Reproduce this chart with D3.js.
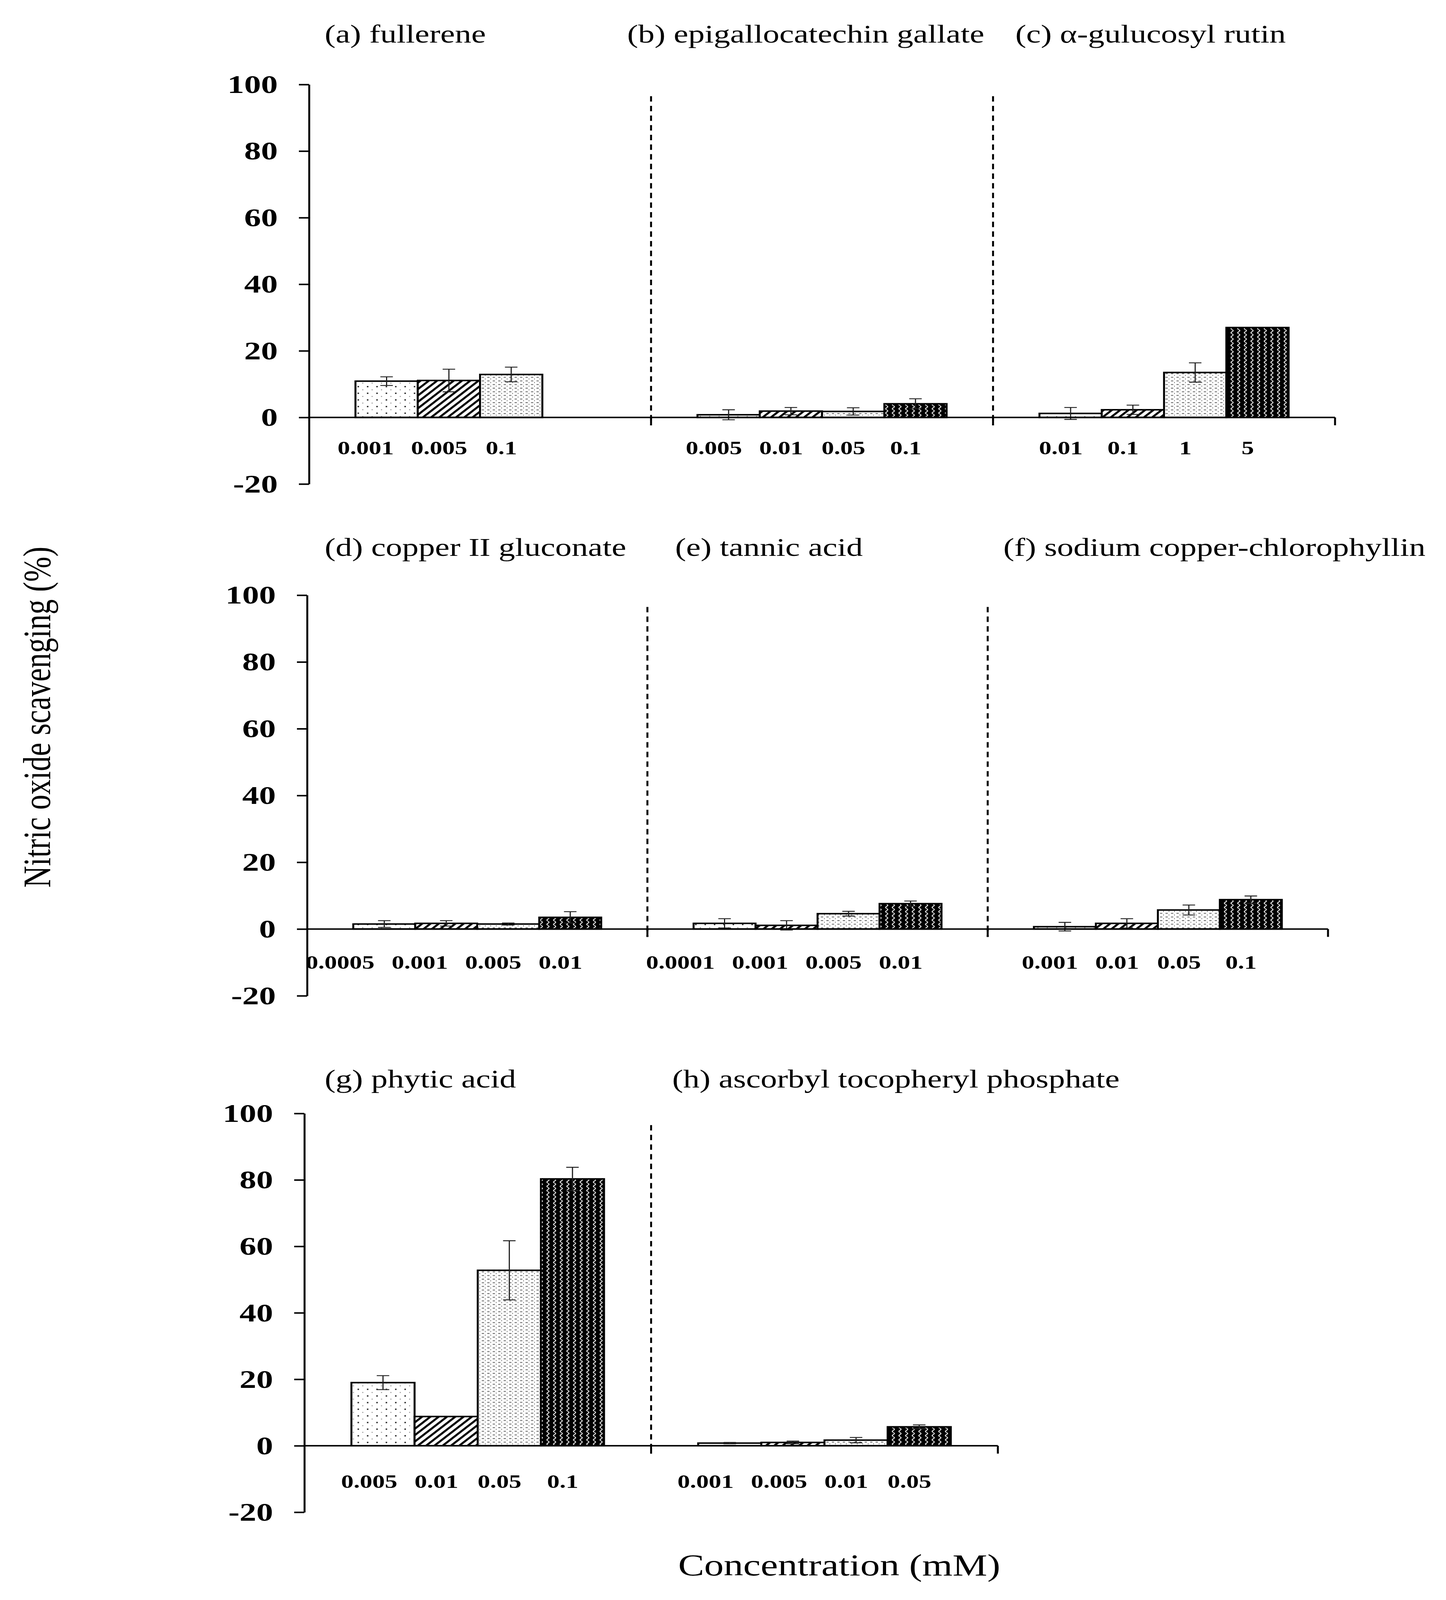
<!DOCTYPE html>
<html><head><meta charset="utf-8">
<script src="https://cdn.jsdelivr.net/npm/d3@7"></script>
<style>html,body{margin:0;padding:0;background:#fff;overflow:hidden} svg{display:block}</style>
</head><body>
<svg id="chart"></svg>
<script>
// ---------------- DATA ----------------
const panelTitles = [
  "(a) fullerene",
  "(b) epigallocatechin gallate",
  "(c) \u03b1-gulucosyl rutin",
  "(d) copper II gluconate",
  "(e) tannic acid",
  "(f) sodium copper-chlorophyllin",
  "(g) phytic acid",
  "(h) ascorbyl tocopheryl phosphate"
];
const concLabels = [
  ["0.001", "0.005", "0.1"],
  ["0.005", "0.01", "0.05", "0.1"],
  ["0.01", "0.1", "1", "5"],
  ["0.0005", "0.001", "0.005", "0.01"],
  ["0.0001", "0.001", "0.005", "0.01"],
  ["0.001", "0.01", "0.05", "0.1"],
  ["0.005", "0.01", "0.05", "0.1"],
  ["0.001", "0.005", "0.01", "0.05"]
];
const meanValues = [
  [10.9, 11.1, 12.9],
  [0.8, 1.9, 1.8, 4.1],
  [1.2, 2.3, 13.5, 27.0],
  [1.5, 1.7, 1.5, 3.5],
  [1.7, 1.1, 4.6, 7.6],
  [0.7, 1.7, 5.7, 8.8],
  [19.0, 8.8, 52.8, 80.3],
  [0.8, 1.0, 1.7, 5.7]
];
const errValues = [
  [1.3, 3.4, 2.2],
  [1.5, 1.1, 1.1, 1.5],
  [1.8, 1.4, 2.9, 0],
  [1.0, 0.8, 0.3, 1.7],
  [1.4, 1.4, 0.7, 0.8],
  [1.3, 1.4, 1.5, 1.1],
  [2.1, 0, 8.9, 3.5],
  [0.2, 0.4, 0.8, 0.6]
];
const yTicks = [-20, 0, 20, 40, 60, 80, 100];
const rowPanels = [[0, 1, 2], [3, 4, 5], [6, 7]];
const yAxisTitle = "Nitric oxide scavenging (%)";
const xAxisTitle = "Concentration (mM)";

// ---------------- LAYOUT (in 3701 x 5301 design units) ----------------
const DW = 3701, DH = 5301;
const rowLayout = [
  {axisX: 791, endX: 3417, y0: 1383, y100: 280,  titleY: 141,  labelY: 1505, titleDx: [40, -61, 57]},
  {axisX: 786, endX: 3399, y0: 3078, y100: 1972, titleY: 1841, labelY: 3210, titleDx: [45, 71, 40]},
  {axisX: 779, endX: 2554, y0: 4790, y100: 3689, titleY: 3603, labelY: 4930, titleDx: [52, 54]}
];
const FONT = "'Liberation Serif','Times New Roman',serif";

// fit the whole design into the actual window (the window may be shorter than asked)
const VW = window.innerWidth || DW, VH = window.innerHeight || DH;
const svg = d3.select("#chart")
  .attr("width", VW).attr("height", VH)
  .attr("viewBox", `0 0 ${DW} ${DH}`)
  .attr("preserveAspectRatio", "none");
svg.append("rect").attr("width", DW).attr("height", DH).attr("fill", "#fff");

// ---------------- PATTERNS ----------------
const defs = svg.append("defs");
const p0 = defs.append("pattern").attr("id", "pat0").attr("patternUnits", "userSpaceOnUse")
  .attr("width", 24).attr("height", 22);
p0.append("rect").attr("width", 24).attr("height", 22).attr("fill", "#fff");
p0.append("rect").attr("x", 3).attr("y", 3).attr("width", 4).attr("height", 4).attr("fill", "#222");
p0.append("rect").attr("x", 15).attr("y", 14).attr("width", 3).attr("height", 3).attr("fill", "#999");
const p1 = defs.append("pattern").attr("id", "pat1").attr("patternUnits", "userSpaceOnUse")
  .attr("width", 15).attr("height", 15).attr("patternTransform", "rotate(45)");
p1.append("rect").attr("width", 15).attr("height", 15).attr("fill", "#fff");
p1.append("rect").attr("width", 6).attr("height", 15).attr("fill", "#000");
const p2 = defs.append("pattern").attr("id", "pat2").attr("patternUnits", "userSpaceOnUse")
  .attr("width", 14).attr("height", 12);
p2.append("rect").attr("width", 14).attr("height", 12).attr("fill", "#fff");
p2.append("rect").attr("x", 1).attr("y", 1).attr("width", 6).attr("height", 2).attr("fill", "#333");
p2.append("rect").attr("x", 9).attr("y", 6).attr("width", 2).attr("height", 3).attr("fill", "#666");
const p3 = defs.append("pattern").attr("id", "pat3").attr("patternUnits", "userSpaceOnUse")
  .attr("width", 17).attr("height", 14);
p3.append("rect").attr("width", 17).attr("height", 14).attr("fill", "#000");
p3.append("path").attr("d", "M8.5,0 C12.5,3.5 12.5,3.5 8.5,7 C4.5,10.5 4.5,10.5 8.5,14")
  .attr("fill", "none").attr("stroke", "#fff").attr("stroke-width", 2.2);

const slots = [0, 1, 2, 3];

// ---------------- ROWS ----------------
rowPanels.forEach((panels, r) => {
  const L = rowLayout[r];
  const pxPerUnit = (L.y0 - L.y100) / 100;
  const y = d3.scaleLinear().domain([-20, 100]).range([L.y0 + 20 * pxPerUnit, L.y100]);
  const gScale = d3.scaleBand().domain(panels).range([L.axisX, L.endX]).padding(0);
  const g = svg.append("g");

  panels.forEach((p, gi) => {
    const gx = gScale(p);
    const sx = d3.scaleBand().domain(slots).range([gx, gx + gScale.bandwidth()])
      .paddingInner(0).paddingOuter(0.745);
    const bw = sx.bandwidth();
    const vals = meanValues[p];

    g.selectAll(null).data(vals).enter().append("rect")
      .attr("x", (d, i) => sx(i))
      .attr("width", bw)
      .attr("y", d => y(d))
      .attr("height", d => y(0) - y(d))
      .attr("fill", (d, i) => `url(#pat${i})`)
      .attr("stroke", "#000").attr("stroke-width", 5);

    vals.forEach((v, i) => {
      const e = errValues[p][i];
      if (!e) return;
      const cx = sx(i) + bw / 2;
      const eg = g.append("g").attr("stroke", "#222").attr("stroke-width", 3);
      eg.append("line").attr("x1", cx).attr("x2", cx).attr("y1", y(v - e)).attr("y2", y(v + e));
      eg.append("line").attr("x1", cx - 16).attr("x2", cx + 16).attr("y1", y(v + e)).attr("y2", y(v + e));
      eg.append("line").attr("x1", cx - 16).attr("x2", cx + 16).attr("y1", y(v - e)).attr("y2", y(v - e));
    });

    // concentration labels: near bar centres, pushed apart leftwards when crowded
    const labs = g.selectAll(null).data(concLabels[p]).enter().append("text")
      .attr("y", L.labelY)
      .attr("text-anchor", "middle")
      .attr("font-family", FONT).attr("font-weight", "bold").attr("font-size", 64)
      .text(d => d);
    const xs = concLabels[p].map((d, i) => sx(i) + bw / 2 - 25);
    const ws = labs.nodes().map(n => n.getComputedTextLength());
    for (let i = xs.length - 2; i >= 0; i--) {
      const minX = xs[i + 1] - ws[i + 1] / 2 - 44 - ws[i] / 2;
      if (xs[i] > minX) xs[i] = minX;
    }
    labs.attr("x", (d, i) => xs[i]);

    g.append("text")
      .attr("x", gx + L.titleDx[gi])
      .attr("y", L.titleY)
      .attr("font-family", FONT).attr("font-size", 84)
      .text(panelTitles[p]);

    if (gi > 0) {
      g.append("line").attr("x1", gx).attr("x2", gx)
        .attr("y1", y(96.5)).attr("y2", y(0) + 26)
        .attr("stroke", "#000").attr("stroke-width", 5).attr("stroke-dasharray", "18,14");
    }
    g.append("line").attr("x1", gx + gScale.bandwidth()).attr("x2", gx + gScale.bandwidth())
      .attr("y1", y(0)).attr("y2", y(0) + 26)
      .attr("stroke", "#000").attr("stroke-width", 5);
  });

  g.append("line").attr("x1", L.axisX).attr("x2", L.endX)
    .attr("y1", y(0)).attr("y2", y(0))
    .attr("stroke", "#000").attr("stroke-width", 5);

  const ax = g.append("g").attr("transform", `translate(${L.axisX},0)`)
    .call(d3.axisLeft(y).tickValues(yTicks).tickSize(26).tickSizeOuter(0).tickPadding(54)
      .tickFormat(d3.format("d")));
  ax.select(".domain").attr("stroke", "#000").attr("stroke-width", 5);
  ax.selectAll(".tick line").attr("stroke", "#000").attr("stroke-width", 5);
  ax.selectAll(".tick text").attr("font-family", FONT).attr("font-weight", "bold")
    .attr("font-size", 86).attr("fill", "#000").text(d => d < 0 ? "-" + Math.abs(d) : d);
});

svg.append("text")
  .attr("transform", "translate(128,2376) rotate(-90)")
  .attr("text-anchor", "middle")
  .attr("font-family", FONT).attr("font-size", 100)
  .text(yAxisTitle);
svg.append("text")
  .attr("x", 2148).attr("y", 5220)
  .attr("text-anchor", "middle")
  .attr("font-family", FONT).attr("font-size", 100)
  .text(xAxisTitle);
</script>
</body></html>
